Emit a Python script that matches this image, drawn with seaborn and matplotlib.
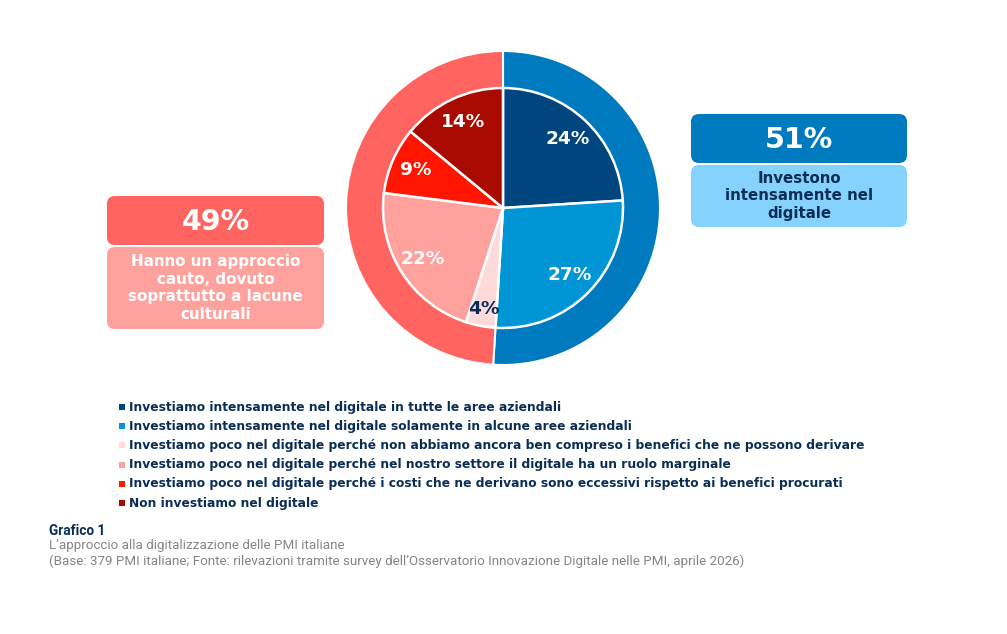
import matplotlib
matplotlib.use("Agg")
import matplotlib.pyplot as plt
import seaborn as sns
from matplotlib.patches import FancyBboxPatch

# ---- data ----
inner_labels = [
    "Investiamo intensamente nel digitale in tutte le aree aziendali",
    "Investiamo intensamente nel digitale solamente in alcune aree aziendali",
    "Investiamo poco nel digitale perché non abbiamo ancora ben compreso i benefici che ne possono derivare",
    "Investiamo poco nel digitale perché nel nostro settore il digitale ha un ruolo marginale",
    "Investiamo poco nel digitale perché i costi che ne derivano sono eccessivi rispetto ai benefici procurati",
    "Non investiamo nel digitale",
]
inner_values = [24, 27, 4, 22, 9, 14]
outer_labels = ["Investono intensamente nel digitale",
                "Hanno un approccio cauto, dovuto soprattutto a lacune culturali"]
outer_values = [51, 49]

inner_colors = sns.color_palette(["#00457E", "#0096D6", "#FFDADA", "#FFA29D", "#FF1500", "#A90A00"])
outer_colors = sns.color_palette(["#007ABF", "#FF6460"])
NAVY = "#0A2D56"

W, H = 1007, 634
sns.set_theme(style="white")
plt.rcParams["font.family"] = ["DejaVu Sans"]

fig = plt.figure(figsize=(W / 100, H / 100), dpi=100)
fig.patch.set_facecolor("white")

# overlay axes in pixel coordinates
ov = fig.add_axes([0, 0, 1, 1])
ov.set_xlim(0, W)
ov.set_ylim(H, 0)
ov.axis("off")

# pie axes
cx, cy, R = 503, 208, 157
pa = fig.add_axes([(cx - R) / W, (H - cy - R) / H, 2 * R / W, 2 * R / H])
pa.pie(outer_values, colors=outer_colors, startangle=90, counterclock=False,
       radius=1.0, wedgeprops=dict(width=0.25, edgecolor="white", linewidth=1.5))
r_in = 120 / R
wedges, texts, autotexts = pa.pie(
    inner_values, colors=inner_colors, startangle=90, counterclock=False,
    radius=r_in, autopct="%d%%", pctdistance=0.79,
    wedgeprops=dict(edgecolor="white", linewidth=1.8),
    textprops=dict(color="white", fontsize=13.3, fontweight="bold"))
for i, t in enumerate(autotexts):
    if inner_values[i] < 5:
        t.set_color(NAVY)
        x, y = t.get_position()
        t.set_position((x * 1.08, y * 1.08))
pa.set_xlim(-1, 1)
pa.set_ylim(-1, 1)
pa.set_aspect("equal")


def box(x0, y0, x1, y1, color):
    ov.add_patch(FancyBboxPatch((x0, y0), x1 - x0, y1 - y0,
                                boxstyle="round,pad=0,rounding_size=8",
                                facecolor=color, edgecolor="none"))


# left callout
box(107, 196, 324, 245, outer_colors[1])
box(107, 247, 324, 329, inner_colors[3])
ov.text(215.5, 222, f"{outer_values[1]}%", ha="center", va="center",
        color="white", fontsize=20.5, fontweight="bold")
ov.text(215.5, 288, "Hanno un approccio\ncauto, dovuto\nsoprattutto a lacune\nculturali",
        ha="center", va="center", color="white", fontsize=10.9,
        fontweight="bold", linespacing=1.22)

# right callout
box(691, 114, 907, 163, outer_colors[0])
box(691, 165, 907, 227, "#85D2FF")
ov.text(799, 140, f"{outer_values[0]}%", ha="center", va="center",
        color="white", fontsize=20.5, fontweight="bold")
ov.text(799, 196, "Investono\nintensamente nel\ndigitale",
        ha="center", va="center", color=NAVY, fontsize=10.8,
        fontweight="bold", linespacing=1.2)

# legend
ly0, dy = 407, 19.2
for i, (lab, col) in enumerate(zip(inner_labels, inner_colors)):
    y = ly0 + i * dy
    ov.scatter([121.5], [y], marker="s", s=14, color=col, linewidths=0)
    ov.text(129, y, lab, ha="left", va="center", color=NAVY,
            fontsize=8.85, fontweight="bold")

# caption
ov.text(49, 531, "Grafico 1", ha="left", va="center", color=NAVY,
        fontsize=9.8, fontweight="bold", family="Roboto")
ov.text(49, 546, "L’approccio alla digitalizzazione delle PMI italiane",
        ha="left", va="center", color="#858585", fontsize=9.6, family="Roboto")
ov.text(49, 561, "(Base: 379 PMI italiane; Fonte: rilevazioni tramite survey dell’Osservatorio "
        "Innovazione Digitale nelle PMI, aprile 2026)",
        ha="left", va="center", color="#858585", fontsize=9.6, family="Roboto")

fig.savefig("out.png", dpi=100, facecolor="white")
